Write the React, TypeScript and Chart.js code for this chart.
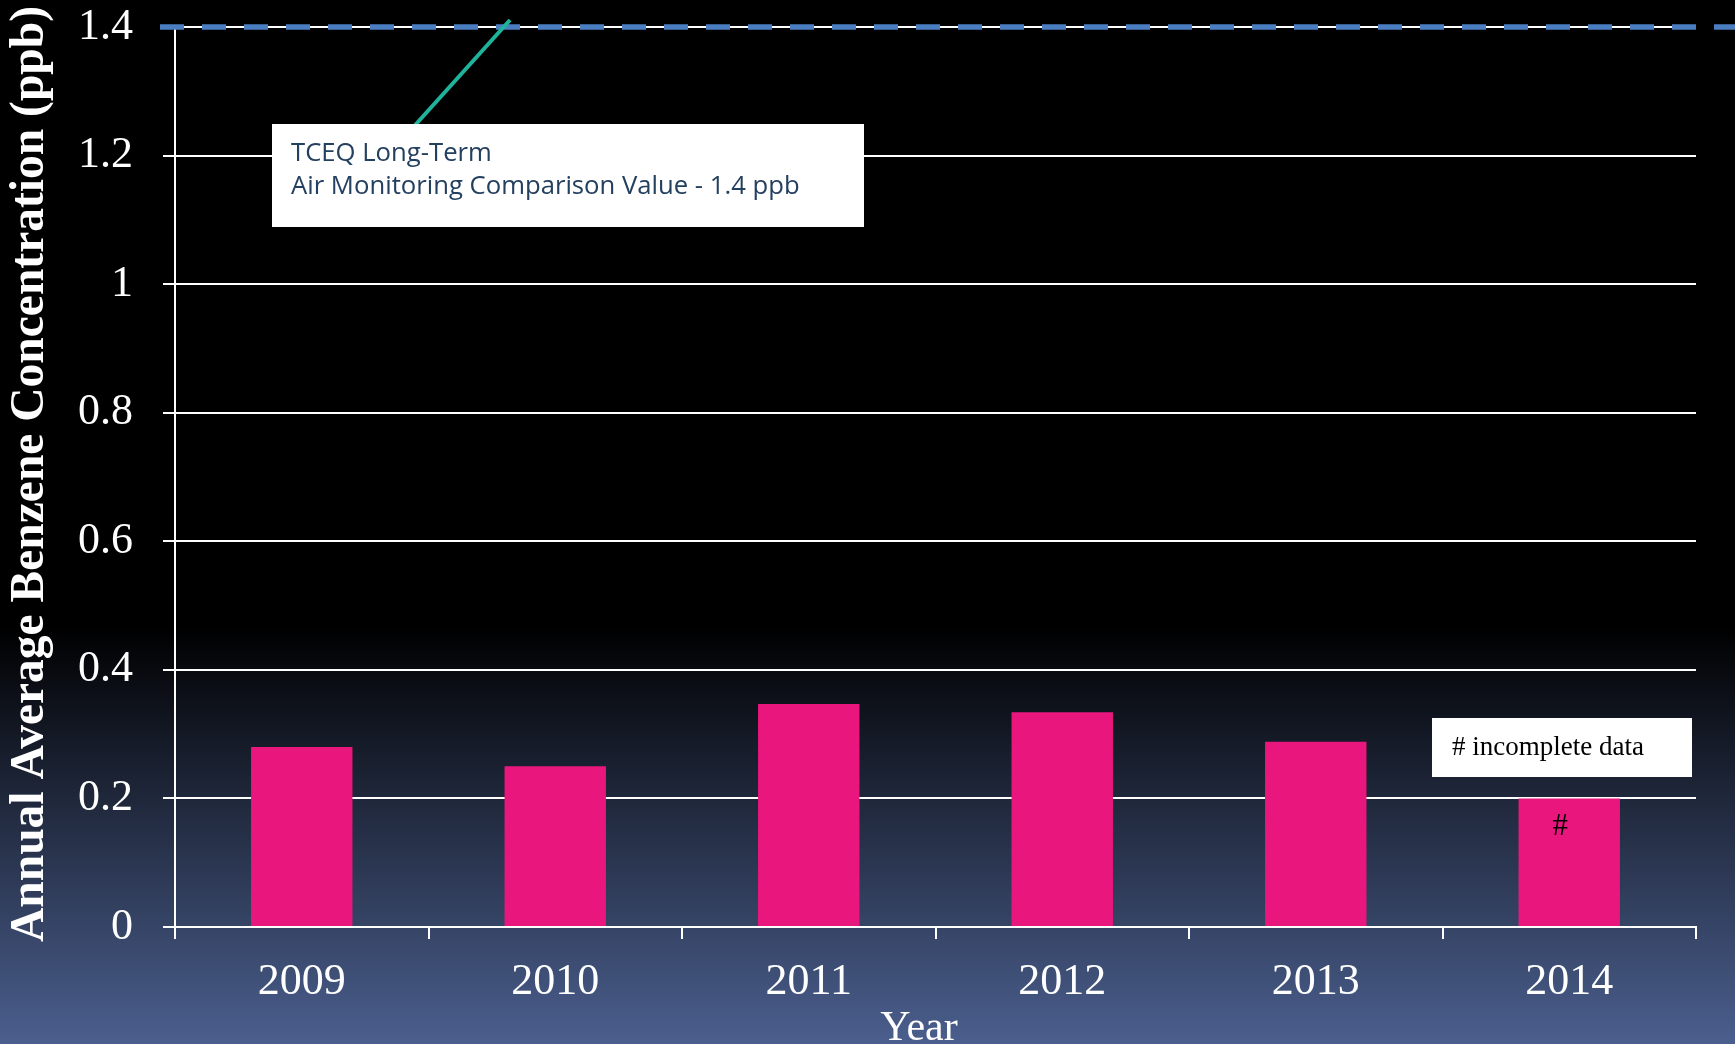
import React, { useEffect, useRef } from 'react';
import { Chart, registerables } from 'chart.js';

Chart.register(...registerables);

// ---- data ----
const years = ['2009', '2010', '2011', '2012', '2013', '2014'];
const benzenePpb = [0.28, 0.25, 0.347, 0.334, 0.288, 0.2];
const incomplete = [false, false, false, false, false, true];
const yTickValues = [0, 0.2, 0.4, 0.6, 0.8, 1, 1.2, 1.4];
const comparisonValuePpb = 1.4;
const yAxisTitle = 'Annual Average Benzene Concentration (ppb)';
const xAxisTitle = 'Year';
const cvNoteLines = ['TCEQ Long-Term', 'Air Monitoring Comparison Value - 1.4 ppb'];
const incompleteNote = '# incomplete data';
const incompleteMark = '#';

const SERIF = '"Liberation Serif", "Times New Roman", serif';
const SANS = '"Open Sans", "Noto Sans", sans-serif';

const backgroundPlugin = {
  id: 'bgGradient',
  beforeDraw(chart: any) {
    const { ctx, width, height } = chart;
    const g = ctx.createLinearGradient(0, 0, 0, height);
    g.addColorStop(0, '#000000');
    g.addColorStop(0.6, '#000000');
    g.addColorStop(1, '#4B5F8E');
    ctx.save();
    ctx.fillStyle = g;
    ctx.fillRect(0, 0, width, height);
    ctx.restore();
  },
};

const annotationPlugin = {
  id: 'annotations',
  afterDraw(chart: any) {
    const { ctx } = chart;
    const xs = chart.scales.x;
    const ys = chart.scales.y;

    // y axis title
    ctx.save();
    ctx.fillStyle = '#FFFFFF';
    ctx.font = `bold 47.5px ${SERIF}`;
    ctx.textAlign = 'center';
    ctx.textBaseline = 'alphabetic';
    ctx.translate(43, (ys.top + ys.bottom) / 2 - 3);
    ctx.rotate(-Math.PI / 2);
    ctx.fillText(yAxisTitle, 0, 0);
    ctx.restore();

    // x axis title
    ctx.save();
    ctx.fillStyle = '#FFFFFF';
    ctx.font = `42px ${SERIF}`;
    ctx.textAlign = 'center';
    ctx.textBaseline = 'alphabetic';
    ctx.fillText(xAxisTitle, 919, 1040);
    ctx.restore();

    // comparison value dashed line
    const yp = ys.getPixelForValue(comparisonValuePpb);
    ctx.save();
    ctx.strokeStyle = '#4A7EC0';
    ctx.lineWidth = 5.5;
    ctx.setLineDash([24, 18]);
    ctx.beginPath();
    ctx.moveTo(160, yp);
    ctx.lineTo(chart.width, yp);
    ctx.stroke();
    ctx.restore();

    // connector
    ctx.save();
    ctx.strokeStyle = '#1FB39C';
    ctx.lineWidth = 4;
    ctx.beginPath();
    ctx.moveTo(510, 20);
    ctx.lineTo(408, 133);
    ctx.stroke();
    ctx.restore();

    // note box
    ctx.save();
    ctx.fillStyle = '#FFFFFF';
    ctx.fillRect(272, 124, 592, 103);
    ctx.font = `100px ${SANS}`;
    const w = ctx.measureText(cvNoteLines[1]).width;
    const fs = (100 * 509) / w;
    ctx.font = `${fs}px ${SANS}`;
    ctx.fillStyle = '#24405F';
    ctx.textAlign = 'left';
    ctx.textBaseline = 'alphabetic';
    ctx.fillText(cvNoteLines[0], 291, 160.5);
    ctx.fillText(cvNoteLines[1], 291, 194);
    ctx.restore();

    // incomplete box
    ctx.save();
    ctx.fillStyle = '#FFFFFF';
    ctx.fillRect(1432, 718, 260, 59);
    ctx.fillStyle = '#000000';
    ctx.font = `27px ${SERIF}`;
    ctx.textAlign = 'left';
    ctx.textBaseline = 'alphabetic';
    ctx.fillText(incompleteNote, 1452, 755);
    ctx.restore();

    // marks on incomplete bars
    ctx.save();
    ctx.fillStyle = '#000000';
    ctx.font = `31px ${SERIF}`;
    ctx.textAlign = 'center';
    ctx.textBaseline = 'alphabetic';
    incomplete.forEach((flag, i) => {
      if (!flag) return;
      ctx.fillText(incompleteMark, xs.getPixelForValue(i) - 9, ys.getPixelForValue(benzenePpb[i]) + 37);
    });
    ctx.restore();
  },
};

export default function App() {
  const ref = useRef<HTMLCanvasElement>(null);
  useEffect(() => {
    document.body.style.margin = '0';
    document.body.style.background = '#000';
    const chart = new Chart(ref.current as HTMLCanvasElement, {
      type: 'bar',
      data: {
        labels: years,
        datasets: [
          {
            label: 'Benzene',
            data: benzenePpb,
            backgroundColor: '#E9177D',
            borderWidth: 0,
            barPercentage: 0.4,
            categoryPercentage: 1,
          },
        ],
      },
      options: {
        responsive: false,
        animation: false,
        devicePixelRatio: 1,
        layout: { padding: { top: 0, right: 39, bottom: 0, left: 0 } },
        plugins: { legend: { display: false }, tooltip: { enabled: false } },
        scales: {
          x: {
            type: 'category',
            offset: true,
            grid: { offset: true, drawOnChartArea: false, drawTicks: true, tickLength: 12, color: '#FFFFFF', lineWidth: 2 },
            border: { display: true, color: '#FFFFFF', width: 2 },
            ticks: { color: '#FFFFFF', font: { family: SERIF, size: 44 }, padding: 17, maxRotation: 0, autoSkip: false },
            afterFit: (s: any) => { s.height = 117; s.paddingLeft = 0; s.paddingRight = 0; },
          },
          y: {
            min: 0,
            max: 1.4,
            afterBuildTicks: (s: any) => { s.ticks = yTickValues.map((v) => ({ value: v })); },
            grid: { color: '#FFFFFF', lineWidth: 2, tickLength: 12, drawTicks: true },
            border: { display: true, color: '#FFFFFF', width: 2 },
            ticks: { color: '#FFFFFF', font: { family: SERIF, size: 44 }, padding: 30, callback: (v: any) => String(v) },
            afterFit: (s: any) => { s.width = 175; s.paddingTop = 27; s.paddingBottom = 0; },
          },
        },
      },
      plugins: [backgroundPlugin, annotationPlugin],
    } as any);
    return () => chart.destroy();
  }, []);
  return <canvas ref={ref} width={1735} height={1044} style={{ display: 'block', width: 1735, height: 1044 }} />;
}
